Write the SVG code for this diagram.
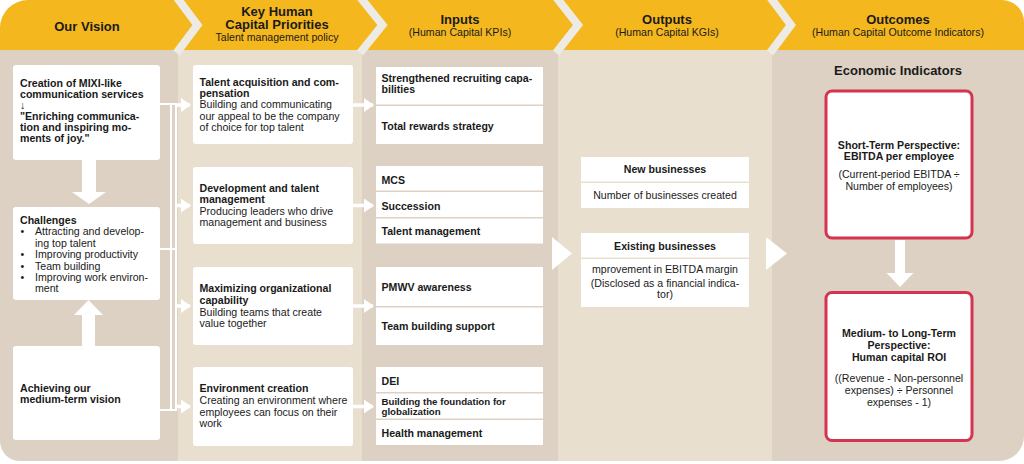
<svg xmlns="http://www.w3.org/2000/svg" width="1024" height="464" viewBox="0 0 1024 464">
<style>
text{font-family:"Liberation Sans",Arial,Helvetica,sans-serif;fill:#1a1a1a}
.h{font-size:13px;font-weight:bold;text-anchor:middle}
.s{font-size:10.6px;text-anchor:middle}
.b{font-size:10.6px;font-weight:bold}
.r{font-size:10.6px}
.m{text-anchor:middle}
.box{fill:#fff}
.red{fill:#fff;stroke:#D5334F;stroke-width:3}
.sep{fill:none;stroke:#EEEAE4;stroke-width:8;stroke-linejoin:miter}
.wl{stroke:#fff;stroke-width:2;fill:none}
.ws{stroke:#fff;stroke-width:3.5;fill:none}
.wf{fill:#fff}
</style>
<defs>
<marker id="ah" markerWidth="10" markerHeight="14" refX="9" refY="7" orient="auto" markerUnits="userSpaceOnUse">
<path d="M0,0 L10,7 L0,14 Z" fill="#fff"/>
</marker>
</defs>
<g id="background">
<path d="M0,50 H1024 V436 A25,25 0 0 1 999,461 H20 A20,20 0 0 1 0,441 Z" fill="#DCD1C3"/>
<rect x="178" y="50" width="184" height="411" fill="#E9DFCE"/>
<rect x="558" y="50" width="214" height="411" fill="#E9DFCE"/>
</g>
<g id="header">
<path d="M0,50 V28 A28,28 0 0 1 28,0 H1002 A22,22 0 0 1 1024,22 V50 Z" fill="#F4B81E"/>
<polyline class="sep" points="176.5,-3 197.5,25 176.5,53"/>
<polyline class="sep" points="360,-3 382.5,25 360,53"/>
<polyline class="sep" points="556,-3 578,25 556,53"/>
<polyline class="sep" points="770,-3 791,25 770,53"/>
<text class="h" x="87" y="30.5">Our Vision</text>
<text class="h" x="277" y="15.5">Key Human</text>
<text class="h" x="277" y="29">Capital Priorities</text>
<text class="s" x="277" y="40.5">Talent management policy</text>
<text class="h" x="460" y="23.5">Inputs</text>
<text class="s" x="460" y="36">(Human Capital KPIs)</text>
<text class="h" x="667" y="23.5">Outputs</text>
<text class="s" x="667" y="36">(Human Capital KGIs)</text>
<text class="h" x="898" y="23.5">Outcomes</text>
<text class="s" x="898" y="36">(Human Capital Outcome Indicators)</text>
</g>
<g id="connectors">
<path class="wl" d="M160,104 H177 M160,249 H177 M160,410 H177 M171,104 V410 M176,104 V410"/>
<path class="ws" d="M176,105 H190" marker-end="url(#ah)"/>
<path class="ws" d="M176,205.5 H190" marker-end="url(#ah)"/>
<path class="ws" d="M176,306 H190" marker-end="url(#ah)"/>
<path class="ws" d="M176,406.5 H190" marker-end="url(#ah)"/>
<path class="ws" d="M353,105 H373" marker-end="url(#ah)"/>
<path class="ws" d="M353,205.5 H373" marker-end="url(#ah)"/>
<path class="ws" d="M353,306 H373" marker-end="url(#ah)"/>
<path class="ws" d="M353,406.5 H373" marker-end="url(#ah)"/>
<path class="wf" d="M82,160 H96 V192 H106 L89,204 L72,192 H82 Z"/>
<path class="wf" d="M82,346 H95 V315 H103 L88.5,300 L74,315 H82 Z"/>
<polygon class="wf" points="552,237 572,253.5 552,270"/>
<polygon class="wf" points="766,237 787,253.5 766,270"/>
<path class="wf" d="M895,240 H905 V273 H913.5 L900,287 L886.5,273 H895 Z"/>
</g>
<g id="vision">
<rect class="box" x="13" y="65" width="147" height="95" rx="3"/>
<text class="b" x="20" y="87">Creation of MIXI-like</text>
<text class="b" x="20" y="98">communication services</text>
<text class="r" x="20" y="109">↓</text>
<text class="b" x="20" y="120">"Enriching communica-</text>
<text class="b" x="20" y="131">tion and inspiring mo-</text>
<text class="b" x="20" y="142">ments of joy."</text>
</g>
<g id="challenges">
<rect class="box" x="13" y="207" width="147" height="93" rx="3"/>
<text class="b" x="20" y="224">Challenges</text>
<text class="r" x="20.5" y="235">•</text>
<text class="r" x="35" y="235">Attracting and develop-</text>
<text class="r" x="35" y="246.5">ing top talent</text>
<text class="r" x="20.5" y="258">•</text>
<text class="r" x="35" y="258">Improving productivity</text>
<text class="r" x="20.5" y="269.5">•</text>
<text class="r" x="35" y="269.5">Team building</text>
<text class="r" x="20.5" y="281">•</text>
<text class="r" x="35" y="281">Improving work environ-</text>
<text class="r" x="35" y="292">ment</text>
</g>
<g id="medium-term">
<rect class="box" x="13" y="346" width="147" height="94" rx="3"/>
<text class="b" x="20" y="392">Achieving our</text>
<text class="b" x="20" y="402.5">medium-term vision</text>
</g>
<g id="priority-talent">
<rect class="box" x="193" y="65" width="160" height="79" rx="3"/>
<text class="b" x="199.5" y="85.5">Talent acquisition and com-</text>
<text class="b" x="199.5" y="96.5">pensation</text>
<text class="r" x="199.5" y="108">Building and communicating</text>
<text class="r" x="199.5" y="119.5">our appeal to be the company</text>
<text class="r" x="199.5" y="130.5">of choice for top talent</text>
</g>
<g id="priority-development">
<rect class="box" x="193" y="167" width="160" height="77" rx="3"/>
<text class="b" x="199.5" y="191.5">Development and talent</text>
<text class="b" x="199.5" y="203">management</text>
<text class="r" x="199.5" y="214.5">Producing leaders who drive</text>
<text class="r" x="199.5" y="225.5">management and business</text>
</g>
<g id="priority-organization">
<rect class="box" x="193" y="267" width="160" height="78" rx="3"/>
<text class="b" x="199.5" y="292">Maximizing organizational</text>
<text class="b" x="199.5" y="304">capability</text>
<text class="r" x="199.5" y="315.5">Building teams that create</text>
<text class="r" x="199.5" y="326.5">value together</text>
</g>
<g id="priority-environment">
<rect class="box" x="193" y="367" width="160" height="79" rx="3"/>
<text class="b" x="199.5" y="392">Environment creation</text>
<text class="r" x="199.5" y="404">Creating an environment where</text>
<text class="r" x="199.5" y="415.5">employees can focus on their</text>
<text class="r" x="199.5" y="427">work</text>
</g>
<g id="inputs-talent">
<rect class="box" x="376" y="67" width="167" height="37.5"/>
<rect class="box" x="376" y="106" width="167" height="38"/>
<text class="b" x="381.5" y="82">Strengthened recruiting capa-</text>
<text class="b" x="381.5" y="93">bilities</text>
<text class="b" x="381.5" y="129.5">Total rewards strategy</text>
</g>
<g id="inputs-development">
<rect class="box" x="376" y="166" width="167" height="24.5"/>
<rect class="box" x="376" y="192" width="167" height="25"/>
<rect class="box" x="376" y="218.5" width="167" height="25"/>
<text class="b" x="381.5" y="184">MCS</text>
<text class="b" x="381.5" y="209.5">Succession</text>
<text class="b" x="381.5" y="234.5">Talent management</text>
</g>
<g id="inputs-organization">
<rect class="box" x="376" y="267" width="167" height="39"/>
<rect class="box" x="376" y="307.5" width="167" height="37.5"/>
<text class="b" x="381.5" y="291">PMWV awareness</text>
<text class="b" x="381.5" y="329.5">Team building support</text>
</g>
<g id="inputs-environment">
<rect class="box" x="376" y="367" width="167" height="25"/>
<rect class="box" x="376" y="393.5" width="167" height="25"/>
<rect class="box" x="376" y="420" width="167" height="25"/>
<text class="b" x="381.5" y="384.5">DEI</text>
<text class="b" x="381.5" y="405" style="font-size:9.7px">Building the foundation for</text>
<text class="b" x="381.5" y="415" style="font-size:9.7px">globalization</text>
<text class="b" x="381.5" y="436.5">Health management</text>
</g>
<g id="outputs-new">
<rect class="box" x="581" y="157" width="168" height="24.5"/>
<rect class="box" x="581" y="183" width="168" height="25"/>
<text class="b m" x="665" y="173">New businesses</text>
<text class="r m" x="665" y="199">Number of businesses created</text>
</g>
<g id="outputs-existing">
<rect class="box" x="581" y="233" width="168" height="24.5"/>
<rect class="box" x="581" y="259" width="168" height="48"/>
<text class="b m" x="665" y="250">Existing businesses</text>
<text class="r m" x="665" y="273">mprovement in EBITDA margin</text>
<text class="r m" x="665" y="286.5">(Disclosed as a financial indica-</text>
<text class="r m" x="665" y="298">tor)</text>
</g>
<g id="economic-indicators">
<text class="h" x="898" y="75">Economic Indicators</text>
</g>
<g id="short-term">
<rect class="red" x="826" y="91" width="146" height="147" rx="6"/>
<text class="b m" x="899" y="149">Short-Term Perspective:</text>
<text class="b m" x="899" y="160">EBITDA per employee</text>
<text class="r m" x="899" y="178">(Current-period EBITDA ÷</text>
<text class="r m" x="899" y="189.5">Number of employees)</text>
</g>
<g id="long-term">
<rect class="red" x="826" y="292.5" width="146" height="148" rx="6"/>
<text class="b m" x="899" y="337">Medium- to Long-Term</text>
<text class="b m" x="899" y="348.5">Perspective:</text>
<text class="b m" x="899" y="361">Human capital ROI</text>
<text class="r m" x="899" y="382">((Revenue - Non-personnel</text>
<text class="r m" x="899" y="394">expenses) ÷ Personnel</text>
<text class="r m" x="899" y="405.5">expenses - 1)</text>
</g>
</svg>
